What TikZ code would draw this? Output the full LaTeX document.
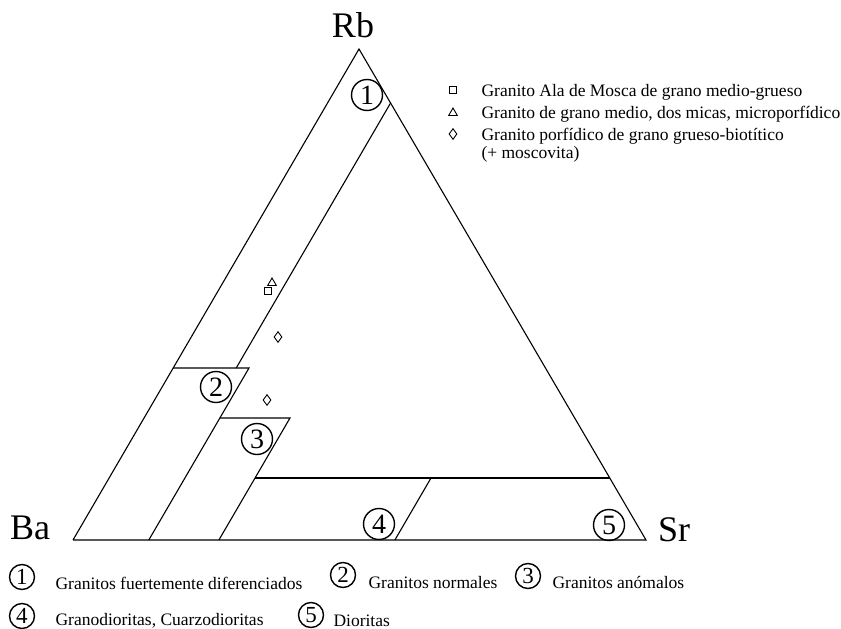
\documentclass[tikz,border=0pt]{standalone}
\usepackage{fontspec}
\setmainfont{Liberation Serif}
\usetikzlibrary{shapes.geometric}

\begin{document}
\begin{tikzpicture}[x=1pt,y=-1pt,line width=1.1pt,
  zone/.style={circle,draw,line width=1.4pt,minimum size=31pt,inner sep=0pt,font=\fontsize{28}{28}\selectfont},
  keynum/.style={circle,draw,line width=1.4pt,minimum size=25pt,inner sep=0pt,font=\fontsize{23}{23}\selectfont},
  txt/.style={anchor=base west,inner sep=0pt,font=\fontsize{17.5}{20}\selectfont},
  corner/.style={anchor=base,inner sep=0pt,font=\fontsize{36}{36}\selectfont},
  sq/.style={draw,rectangle,line width=0.9pt,minimum size=7pt,inner sep=0pt},
  tri/.style={draw,regular polygon,regular polygon sides=3,line width=0.9pt,minimum size=10pt,inner sep=0pt},
  dia/.style={draw,diamond,line width=0.9pt,minimum width=8pt,minimum height=11pt,inner sep=0pt}]

\useasboundingbox (0,0) rectangle (841,629);

\coordinate (Ba) at (73,540);
\coordinate (Sr) at (646,540);
\coordinate (Rb) at (359,49);

\draw (Ba) -- (Sr) -- (Rb) -- (Ba);

\node [corner] (lBa) at (30,539) {Ba};
\node [corner] (lSr) at (674,541) {Sr};
\node [corner] (lRb) at (353,37) {Rb};

% fields
\coordinate (a1) at (390.6,103);
\coordinate (a2) at (236.2,368);
\coordinate (c1) at (173.2,368);
\coordinate (c2) at (249,368);
\coordinate (c3) at (148.8,540);
\coordinate (d1) at (219.9,418);
\coordinate (d2) at (290,418);
\coordinate (d3) at (218.9,540);
\coordinate (e1) at (255,478);
\coordinate (e2) at (609.8,478);
\coordinate (f1) at (431,478);
\coordinate (f2) at (394.9,540);

\draw (a1) -- (a2);
\draw (c1) -- (c2) -- (c3);
\draw (d1) -- (d2) -- (d3);
\draw (e1) -- (e2);
\draw (f1) -- (f2);

\node [zone] (z1) at (367,95) {1};
\node [zone] (z2) at (216,387) {2};
\node [zone] (z3) at (257,439) {3};
\node [zone] (z4) at (379,524) {4};
\node [zone] (z5) at (609,525) {5};

% samples
\node [tri] (p1) at (272,283) {};
\node [sq] (p2) at (268,291) {};
\node [dia] (p3) at (278,337) {};
\node [dia] (p4) at (267,400) {};

% key of samples
\node [sq] (k1) at (453,90) {};
\node [tri] (k2) at (453,113) {};
\node [dia] (k3) at (453,134) {};
\node [txt] (t1) at (481,96) {Granito Ala de Mosca de grano medio-grueso};
\node [txt] (t2) at (481,118) {Granito de grano medio, dos micas, microporfídico};
\node [txt] (t3) at (481,140) {Granito porfídico de grano grueso-biotítico};
\node [txt] (t4) at (481,158) {(+ moscovita)};

% key of fields
\node [keynum] (n1) at (22,577) {1};
\node [keynum] (n2) at (343,575) {2};
\node [keynum] (n3) at (528,576) {3};
\node [keynum] (n4) at (22,616) {4};
\node [keynum] (n5) at (311,615) {5};
\node [txt] (g1) at (55,589) {Granitos fuertemente diferenciados};
\node [txt] (g2) at (368,588) {Granitos normales};
\node [txt] (g3) at (552,588) {Granitos anómalos};
\node [txt] (g4) at (55,625) {Granodioritas, Cuarzodioritas};
\node [txt] (g5) at (333,626) {Dioritas};

\end{tikzpicture}
\end{document}
